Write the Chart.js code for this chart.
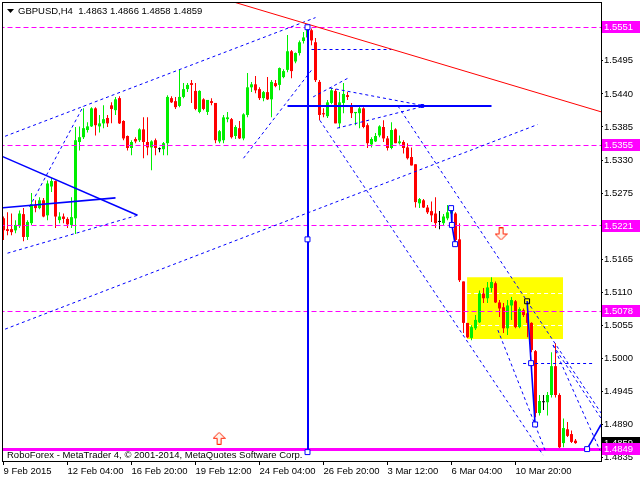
<!DOCTYPE html>
<html>
<head>
<meta charset="utf-8">
<script src="https://cdn.jsdelivr.net/npm/chart.js@4.4.0/dist/chart.umd.min.js"></script>
<style>
  html, body { margin: 0; padding: 0; background: #fff; }
  canvas { display: block; }
</style>
</head>
<body>
<canvas id="chart" width="640" height="480"></canvas>
<script>
const titleText = 'GBPUSD,H4  1.4863 1.4866 1.4858 1.4859';
const footerText = 'RoboForex - MetaTrader 4, \u00a9 2001-2014, MetaQuotes Software Corp.';

// H4 candles, first bar = 9 Feb 2015 12:00
const opens = [
  1.5233, 1.5215, 1.5215, 1.5213, 1.5220, 1.5240, 1.5202, 1.5225, 1.5255, 1.5250,
  1.5263, 1.5238, 1.5286, 1.5295, 1.5230, 1.5236, 1.5232, 1.5222, 1.5233, 1.5360,
  1.5368, 1.5380, 1.5386, 1.5416, 1.5386, 1.5391, 1.5400, 1.5421, 1.5413, 1.5433,
  1.5395, 1.5370, 1.5350, 1.5365, 1.5363, 1.5381, 1.5360, 1.5351, 1.5363, 1.5348,
  1.5348, 1.5358, 1.5433, 1.5428, 1.5420, 1.5435, 1.5448, 1.5458, 1.5445, 1.5410,
  1.5431, 1.5410, 1.5428, 1.5425, 1.5361, 1.5363, 1.5398, 1.5398, 1.5370, 1.5383,
  1.5366, 1.5405, 1.5451, 1.5456, 1.5448, 1.5433, 1.5443, 1.5431, 1.5458, 1.5455,
  1.5468, 1.5480, 1.5511, 1.5494, 1.5508, 1.5528, 1.5534, 1.5546, 1.5526, 1.5460,
  1.5408, 1.5403, 1.5425, 1.5445, 1.5391, 1.5425, 1.5438, 1.5421, 1.5408, 1.5408,
  1.5416, 1.5388, 1.5356, 1.5361, 1.5371, 1.5385, 1.5366, 1.5350, 1.5381, 1.5358,
  1.5360, 1.5351, 1.5335, 1.5323, 1.5258, 1.5263, 1.5251, 1.5245, 1.5241, 1.5227,
  1.5225, 1.5233, 1.5241, 1.5241, 1.5198, 1.5128, 1.5059, 1.5034, 1.5050, 1.5060,
  1.5108, 1.5100, 1.5117, 1.5125, 1.5093, 1.5085, 1.5050, 1.5088, 1.5095, 1.5052,
  1.5080, 1.5075, 1.5059, 1.5012, 1.4909, 1.4927, 1.4927, 1.4939, 1.4987, 1.4939,
  1.4859, 1.4882, 1.4874, 1.4863
];
const highs = [
  1.5236, 1.5243, 1.5241, 1.5230, 1.5246, 1.5250, 1.5230, 1.5275, 1.5263, 1.5268,
  1.5267, 1.5296, 1.5300, 1.5296, 1.5243, 1.5241, 1.5235, 1.5268, 1.5385, 1.5386,
  1.5416, 1.5393, 1.5418, 1.5418, 1.5405, 1.5421, 1.5405, 1.5426, 1.5435, 1.5436,
  1.5396, 1.5371, 1.5363, 1.5368, 1.5383, 1.5401, 1.5401, 1.5363, 1.5366, 1.5351,
  1.5360, 1.5438, 1.5436, 1.5435, 1.5480, 1.5458, 1.5458, 1.5463, 1.5458, 1.5446,
  1.5433, 1.5430, 1.5433, 1.5425, 1.5380, 1.5405, 1.5410, 1.5400, 1.5388, 1.5395,
  1.5408, 1.5475, 1.5460, 1.5470, 1.5451, 1.5445, 1.5468, 1.5463, 1.5463, 1.5484,
  1.5481, 1.5538, 1.5513, 1.5509, 1.5529, 1.5543, 1.5551, 1.5549, 1.5533, 1.5463,
  1.5416, 1.5430, 1.5450, 1.5448, 1.5443, 1.5458, 1.5443, 1.5425, 1.5410, 1.5420,
  1.5418, 1.5391, 1.5368, 1.5375, 1.5388, 1.5396, 1.5370, 1.5393, 1.5383, 1.5371,
  1.5363, 1.5358, 1.5351, 1.5323, 1.5267, 1.5265, 1.5255, 1.5261, 1.5268, 1.5245,
  1.5240, 1.5255, 1.5253, 1.5243, 1.5225, 1.5128, 1.5059, 1.5055, 1.5072, 1.5113,
  1.5117, 1.5127, 1.5135, 1.5128, 1.5097, 1.5092, 1.5097, 1.5102, 1.5097, 1.5085,
  1.5083, 1.5093, 1.5060, 1.5014, 1.4939, 1.4939, 1.4944, 1.5010, 1.5025, 1.4942,
  1.4900, 1.4894, 1.4880, 1.4866
];
const lows = [
  1.5197, 1.5205, 1.5205, 1.5208, 1.5217, 1.5195, 1.5197, 1.5222, 1.5243, 1.5248,
  1.5235, 1.5230, 1.5277, 1.5217, 1.5225, 1.5225, 1.5217, 1.5217, 1.5207, 1.5346,
  1.5365, 1.5376, 1.5385, 1.5371, 1.5376, 1.5383, 1.5385, 1.5391, 1.5405, 1.5390,
  1.5363, 1.5346, 1.5338, 1.5358, 1.5360, 1.5333, 1.5338, 1.5313, 1.5338, 1.5343,
  1.5338, 1.5338, 1.5425, 1.5415, 1.5418, 1.5433, 1.5443, 1.5425, 1.5413, 1.5408,
  1.5413, 1.5405, 1.5421, 1.5358, 1.5358, 1.5358, 1.5393, 1.5366, 1.5365, 1.5365,
  1.5363, 1.5401, 1.5443, 1.5441, 1.5430, 1.5428, 1.5430, 1.5401, 1.5451, 1.5446,
  1.5466, 1.5476, 1.5466, 1.5491, 1.5504, 1.5524, 1.5533, 1.5521, 1.5460, 1.5396,
  1.5401, 1.5400, 1.5423, 1.5391, 1.5383, 1.5408, 1.5430, 1.5400, 1.5388, 1.5383,
  1.5383, 1.5350, 1.5351, 1.5360, 1.5368, 1.5360, 1.5346, 1.5348, 1.5358, 1.5356,
  1.5341, 1.5331, 1.5321, 1.5251, 1.5250, 1.5250, 1.5240, 1.5227, 1.5217, 1.5215,
  1.5222, 1.5230, 1.5238, 1.5193, 1.5127, 1.5042, 1.5034, 1.5030, 1.5047, 1.5059,
  1.5092, 1.5092, 1.5110, 1.5092, 1.5069, 1.5042, 1.5039, 1.5064, 1.5050, 1.5050,
  1.5069, 1.5035, 1.5010, 1.4902, 1.4905, 1.4914, 1.4905, 1.4935, 1.4935, 1.4849,
  1.4852, 1.4869, 1.4859, 1.4858
];
const closes = [
  1.5213, 1.5212, 1.5210, 1.5222, 1.5241, 1.5202, 1.5227, 1.5256, 1.5250, 1.5263,
  1.5236, 1.5291, 1.5295, 1.5236, 1.5236, 1.5232, 1.5223, 1.5235, 1.5363, 1.5368,
  1.5383, 1.5386, 1.5416, 1.5388, 1.5391, 1.5398, 1.5391, 1.5415, 1.5431, 1.5391,
  1.5366, 1.5350, 1.5360, 1.5361, 1.5381, 1.5360, 1.5351, 1.5361, 1.5350, 1.5348,
  1.5358, 1.5435, 1.5426, 1.5418, 1.5435, 1.5448, 1.5455, 1.5455, 1.5415, 1.5445,
  1.5415, 1.5430, 1.5425, 1.5363, 1.5378, 1.5401, 1.5401, 1.5368, 1.5385, 1.5366,
  1.5406, 1.5451, 1.5456, 1.5446, 1.5433, 1.5443, 1.5431, 1.5460, 1.5453, 1.5483,
  1.5478, 1.5511, 1.5478, 1.5508, 1.5526, 1.5534, 1.5549, 1.5529, 1.5463, 1.5405,
  1.5406, 1.5426, 1.5446, 1.5391, 1.5426, 1.5440, 1.5435, 1.5408, 1.5410, 1.5416,
  1.5385, 1.5358, 1.5365, 1.5370, 1.5386, 1.5366, 1.5350, 1.5380, 1.5358, 1.5361,
  1.5350, 1.5333, 1.5321, 1.5260, 1.5265, 1.5251, 1.5243, 1.5238, 1.5225, 1.5227,
  1.5236, 1.5243, 1.5251, 1.5197, 1.5130, 1.5059, 1.5035, 1.5052, 1.5064, 1.5108,
  1.5100, 1.5118, 1.5127, 1.5093, 1.5083, 1.5050, 1.5088, 1.5097, 1.5052, 1.5082,
  1.5072, 1.5059, 1.5014, 1.4909, 1.4929, 1.4927, 1.4939, 1.4987, 1.4939, 1.4852,
  1.4884, 1.4871, 1.4861, 1.4859
];

const timeTicks = [0, 16, 32, 48, 64, 80, 96, 112, 128];
const timeLabels = ['9 Feb 2015', '12 Feb 04:00', '16 Feb 20:00', '19 Feb 12:00', '24 Feb 04:00',
  '26 Feb 20:00', '3 Mar 12:00', '6 Mar 04:00', '10 Mar 20:00'];
const priceTicks = [1.4835, 1.4890, 1.4945, 1.5000, 1.5055, 1.5110, 1.5165, 1.5220, 1.5275,
  1.5330, 1.5385, 1.5440, 1.5495, 1.5550];

const dashedLevels = [1.5551, 1.5355, 1.5221, 1.5078];
const lowLevel = 1.4849;
const lastPrice = 1.4859;

// drawing objects as [bar, price] anchors
const redTrend = [[55, 1.5598], [150, 1.5409]];
const solidBlue = [
  [[-1, 1.5338], [33.5, 1.5238]],
  [[-1, 1.5250], [28, 1.5267]],
  [[111.9, 1.5250], [112.1, 1.5222], [112.9, 1.5190]],
  [[130.9, 1.5095], [131.9, 1.4992], [132.9, 1.4890]],
  [[145.9, 1.4849], [149.4, 1.4890]]
];
const blueVertical = [[76, 1.5551], [76, 1.4844]];
const blueHorizontal = [[71, 1.5420], [122, 1.5420]];
const dottedBlue = [
  [[-1, 1.5366], [78, 1.5567]],
  [[-1, 1.5045], [133.5, 1.5389]],
  [[1, 1.5175], [33.5, 1.5238]],
  [[6.5, 1.5252], [20, 1.5420]],
  [[60, 1.5333], [77.4, 1.5483]],
  [[77.4, 1.5435], [86.6, 1.5468]],
  [[81.6, 1.5450], [105.4, 1.5420]],
  [[83.4, 1.5383], [105.4, 1.5420]],
  [[79.1, 1.5396], [134.9, 1.4839]],
  [[98.6, 1.5420], [149.4, 1.4909]],
  [[123.6, 1.5047], [135.4, 1.4847]],
  [[137.4, 1.5022], [149.1, 1.4847]],
  [[137.4, 1.5022], [149.4, 1.4900]]
];
const dottedFlat = [
  [[77, 1.5514], [97, 1.5514]],
  [[129.9, 1.4992], [147.4, 1.4992]]
];
const blueSquares = [[76, 1.5551], [76, 1.5198], [76, 1.4844], [111.9, 1.5250], [112.1, 1.5222],
  [112.9, 1.5190], [131.9, 1.4992], [132.9, 1.4890], [145.9, 1.4849]];
const blackSquares = [[130.9, 1.5095]];
const blueDots = [[104.7, 1.5420]];
const sellArrows = [[124.4, 1.5207]];
const buyArrows = [[53.9, 1.4867]];
const zoneBars = [115.9, 139.9];
const zonePrices = [1.5135, 1.5032];
const zoneLevels = [1.5108, 1.5054];

const bull = '#00ee00', bear = '#ff0000', doji = '#000000';
const magenta = '#ff00ff', blue = '#0000ff';
const uiFont = "'Liberation Sans', Arial, sans-serif";

Chart.defaults.font.family = uiFont;
Chart.defaults.font.size = 9.5;
Chart.defaults.color = '#000';

function arrowIcon(up) {
  const c = document.createElement('canvas');
  c.width = 13; c.height = 13;
  const g = c.getContext('2d');
  const pts = [[4, 0], [8, 0], [8, 6], [12, 6], [6, 12], [0, 6], [4, 6]];
  g.beginPath();
  pts.forEach((p, k) => {
    const px = p[0] + 0.5, py = (up ? 12 - p[1] : p[1]) + 0.5;
    if (k === 0) g.moveTo(px, py); else g.lineTo(px, py);
  });
  g.closePath();
  g.fillStyle = '#fff4ec';
  g.fill();
  g.strokeStyle = '#ff2000';
  g.lineWidth = 1;
  g.stroke();
  return c;
}

function toXY(pts) { return pts.map(p => ({ x: p[0], y: p[1] })); }

function lineSet(pts, color, width, dash, order, snap) {
  return {
    type: 'line', data: toXY(pts), borderColor: color, borderWidth: width,
    borderDash: dash, pointRadius: 0, fill: false, tension: 0, order: order, clip: 0, snap: snap
  };
}

function markerSet(pts, style, radius, stroke, fillColor) {
  return {
    type: 'line', data: toXY(pts), showLine: false, pointStyle: style, pointRadius: radius,
    pointBorderColor: stroke, pointBackgroundColor: fillColor, pointBorderWidth: 1, order: 0, clip: false
  };
}

const barIdx = opens.map((o, i) => i);
const candleColors = barIdx.map(i => closes[i] > opens[i] ? bull : (closes[i] < opens[i] ? bear : doji));

const datasets = [
  // yellow zone
  {
    type: 'line', data: toXY([[zoneBars[0], zonePrices[0]], [zoneBars[1], zonePrices[0]]]),
    borderColor: 'rgba(0,0,0,0)', backgroundColor: '#ffff00', fill: '+1', pointRadius: 0, order: 20
  },
  {
    type: 'line', data: toXY([[zoneBars[0], zonePrices[1]], [zoneBars[1], zonePrices[1]]]),
    borderColor: 'rgba(0,0,0,0)', fill: false, pointRadius: 0, order: 20
  },
  ...zoneLevels.map(p => lineSet([[zoneBars[0], p], [zoneBars[1], p]], '#ffffff', 1, [4, 3], 15, 'y')),
  // candles
  {
    type: 'bar', data: barIdx.map(i => ({ x: i, y: [lows[i], highs[i]] })),
    backgroundColor: candleColors, barThickness: 1, grouped: false, inflateAmount: 0,
    borderWidth: 0, order: 6
  },
  {
    type: 'bar', data: barIdx.map(i => ({ x: i, y: [Math.min(opens[i], closes[i]), Math.max(opens[i], closes[i])] })),
    backgroundColor: candleColors, barThickness: 3, grouped: false, inflateAmount: 0,
    borderWidth: 0, minBarLength: 1, order: 5
  },
  // levels
  ...dashedLevels.map(p => lineSet([[-1, p], [151, p]], magenta, 1, [5, 3], 2, 'y')),
  lineSet([[-1, lowLevel], [151, lowLevel]], magenta, 3, [], 2, 'y'),
  // trend lines
  lineSet(redTrend, bear, 1, [], 1),
  ...solidBlue.map(l => lineSet(l, blue, 1.6, [], 1)),
  lineSet(blueVertical, blue, 2, [], 1, 'x'),
  lineSet(blueHorizontal, blue, 2, [], 1, 'y'),
  ...dottedBlue.map(l => lineSet(l, blue, 1, [3, 3], 1)),
  ...dottedFlat.map(l => lineSet(l, blue, 1, [3, 3], 1, 'y')),
  // markers
  markerSet(blueSquares, 'rect', 3.5, blue, '#ffffff'),
  markerSet(blackSquares, 'rect', 3.5, '#000000', 'rgba(0,0,0,0)'),
  markerSet(blueDots, 'rect', 2, blue, blue),
  markerSet(sellArrows, arrowIcon(false), 6, bear, '#fff'),
  markerSet(buyArrows, arrowIcon(true), 6, bear, '#fff')
];

function priceBox(ctx, y, value, bg) {
  const py = Math.round(y.getPixelForValue(value));
  ctx.fillStyle = bg;
  ctx.fillRect(602, py - 6, 38, 12);
  ctx.fillStyle = '#ffffff';
  ctx.textAlign = 'left';
  ctx.textBaseline = 'middle';
  ctx.fillText(value.toFixed(4), 604, py + 0.5);
}

// keep the plot area where the terminal has it: no extra label padding
function noPadding(s) {
  s.paddingLeft = 0; s.paddingRight = 0; s.paddingTop = 0; s.paddingBottom = 0;
}

// shift straight lines onto whole pixels so thin strokes stay sharp
function snapOffset(pos, width) {
  const target = width % 2 === 1 ? Math.floor(pos) + 0.5 : Math.round(pos);
  return target - pos;
}

const pixelSnap = {
  id: 'pixelSnap',
  beforeDatasetDraw(chart, args) {
    const ds = chart.data.datasets[args.index];
    if (!ds.snap || !args.meta.data.length) return;
    const el = args.meta.data[0];
    chart.ctx.save();
    if (ds.snap === 'y') chart.ctx.translate(0, snapOffset(el.y, ds.borderWidth));
    else chart.ctx.translate(snapOffset(el.x, ds.borderWidth), 0);
  },
  afterDatasetDraw(chart, args) {
    const ds = chart.data.datasets[args.index];
    if (ds.snap && args.meta.data.length) chart.ctx.restore();
  }
};

const terminal = {
  id: 'terminal',
  beforeDraw(chart) {
    const ctx = chart.ctx;
    ctx.save();
    ctx.fillStyle = '#ffffff';
    ctx.fillRect(0, 0, chart.width, chart.height);
    ctx.restore();
  },
  afterDraw(chart) {
    const { ctx, chartArea: a, scales: { y } } = chart;
    ctx.save();
    ctx.strokeStyle = '#000';
    ctx.lineWidth = 1;
    ctx.strokeRect(a.left - 0.5, a.top - 0.5, a.right - a.left + 1, a.bottom - a.top + 1);

    ctx.font = '9.5px ' + uiFont;
    priceBox(ctx, y, lastPrice, '#000000');
    dashedLevels.concat([lowLevel]).forEach(v => priceBox(ctx, y, v, magenta));

    ctx.fillStyle = '#000';
    ctx.beginPath();
    ctx.moveTo(7, 9); ctx.lineTo(14, 9); ctx.lineTo(10.5, 13);
    ctx.closePath();
    ctx.fill();
    ctx.textAlign = 'left';
    ctx.textBaseline = 'middle';
    ctx.fillText(titleText, 18, 11);
    ctx.fillText(footerText, 7, 455);
    ctx.restore();
  }
};

new Chart(document.getElementById('chart'), {
  type: 'bar',
  data: { datasets: datasets },
  options: {
    responsive: false,
    animation: false,
    devicePixelRatio: 1,
    events: [],
    layout: { autoPadding: false, padding: { left: 3, top: 3, right: 0, bottom: 0 } },
    plugins: { legend: { display: false }, tooltip: { enabled: false } },
    scales: {
      x: {
        type: 'linear', position: 'bottom', min: -0.125, max: 149.375, offset: false,
        grid: { drawOnChartArea: false, drawTicks: true, tickLength: 4, color: '#000', offset: false },
        border: { display: false },
        ticks: {
          align: 'start', padding: 1, maxRotation: 0, autoSkip: false, color: '#000',
          callback: v => timeLabels[timeTicks.indexOf(v)]
        },
        afterBuildTicks: s => { s.ticks = timeTicks.map(v => ({ value: v })); },
        afterFit: s => { s.height = 19; noPadding(s); }
      },
      y: {
        type: 'linear', position: 'right', min: 1.48292, max: 1.55913,
        grid: { drawOnChartArea: false, drawTicks: true, tickLength: 2, color: '#000' },
        border: { display: false },
        ticks: { padding: 1, color: '#000', callback: v => v.toFixed(4) },
        afterBuildTicks: s => { s.ticks = priceTicks.map(v => ({ value: v })); },
        afterFit: s => { s.width = 39; noPadding(s); }
      }
    }
  },
  plugins: [pixelSnap, terminal]
});
</script>
</body>
</html>
